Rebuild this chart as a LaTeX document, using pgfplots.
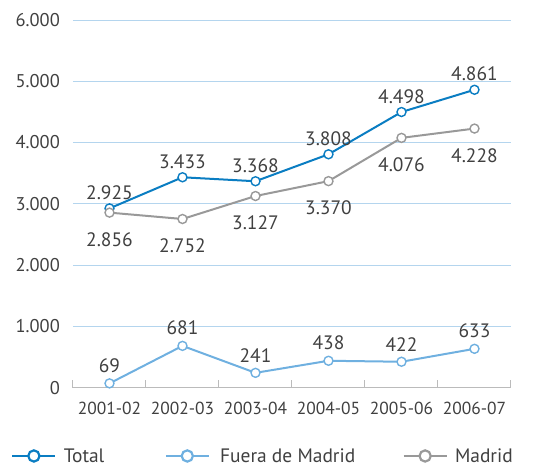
\documentclass[border=0pt]{standalone}
\usepackage{pgfplots}
\pgfplotsset{compat=1.18}
\usepackage{fontspec}
\setmainfont{PT Sans}

\definecolor{totalblue}{HTML}{0A7DC2}
\definecolor{fuerablue}{HTML}{6FB0E0}
\definecolor{madridgray}{HTML}{999999}
\definecolor{gridblue}{HTML}{B4D5EE}
\definecolor{axisgray}{HTML}{BBBBBB}
\definecolor{txt}{HTML}{404040}

\pgfplotsset{
  /pgf/number format/.cd, 1000 sep={.}, assume math mode=true,
}

\begin{document}
\begin{tikzpicture}
\useasboundingbox (-73bp,-78.4bp) rectangle (476bp,387.6bp);
\begin{axis}[
  scale only axis, width=438bp, height=367.6bp,
  xmin=-0.5, xmax=5.5, ymin=0, ymax=6000,
  scaled y ticks=false,
  xtick={0,1,2,3,4,5},
  xticklabels={2001-02,2002-03,2003-04,2004-05,2005-06,2006-07},
  major x tick style={draw=none},
  minor xtick={-0.5,0.5,1.5,2.5,3.5,4.5,5.5},
  minor x tick style={draw=axisgray, line width=1bp},
  minor tick length=8bp,
  tick align=inside,
  ytick={0,1000,2000,3000,4000,5000,6000},
  ytick style={draw=none},
  ymajorgrids, grid style={draw=gridblue, line width=0.9bp},
  axis x line*=bottom, axis y line*=left,
  x axis line style={draw=axisgray, line width=1.2bp, -},
  y axis line style={draw=none},
  yticklabel style={font=\fontsize{18.5}{18.5}\selectfont, text=txt, inner sep=0pt, xshift=-13bp},
  xticklabel style={font=\fontsize{17.5}{17.5}\selectfont, text=txt, inner sep=0pt, yshift=-14bp},
  every node near coord/.append style={font=\fontsize{19.5}{19.5}\selectfont, text=txt, inner sep=0pt},
  legend columns=3,
  legend cell align=left,
  legend style={draw=none, fill=none, at={(-0.142,-0.186)}, anchor=west, inner sep=0pt,
    font=\fontsize{19.5}{19.5}\selectfont, text=txt,
    nodes={inner sep=0pt},
    /tikz/column 1/.append style={column sep=7bp},
    /tikz/column 2/.append style={column sep=60bp},
    /tikz/column 3/.append style={column sep=10bp},
    /tikz/column 4/.append style={column sep=47bp},
    /tikz/column 5/.append style={column sep=7bp}},
  legend image code/.code={
    \draw[mark repeat=2, mark phase=2, #1, line width=2.8bp,
      mark options={line width=2.2bp, fill=white, scale=1.25}]
      plot coordinates {(0bp,0bp) (21.5bp,0bp) (43bp,0bp)};},
]
\addplot[totalblue, line width=2bp, mark=*, mark size=4.5bp,
  mark options={fill=white, line width=1.4bp},
  nodes near coords, every node near coord/.append style={anchor=south, yshift=8bp}]
  coordinates {(0,2925) (1,3433) (2,3368) (3,3808) (4,4498) (5,4861)};
\addlegendentry{Total}

\addplot[fuerablue, line width=2bp, mark=*, mark size=4.5bp,
  mark options={fill=white, line width=1.4bp},
  nodes near coords, every node near coord/.append style={anchor=south, yshift=10bp}]
  coordinates {(0,69) (1,681) (2,241) (3,438) (4,422) (5,633)};
\addlegendentry{Fuera de Madrid}

\addplot[madridgray, line width=2bp, mark=*, mark size=4.5bp,
  mark options={fill=white, line width=1.4bp},
  nodes near coords, every node near coord/.append style={anchor=north, yshift=-19bp}]
  coordinates {(0,2856) (1,2752) (2,3127) (3,3370) (4,4076) (5,4228)};
\addlegendentry{Madrid}
\end{axis}
\end{tikzpicture}
\end{document}
